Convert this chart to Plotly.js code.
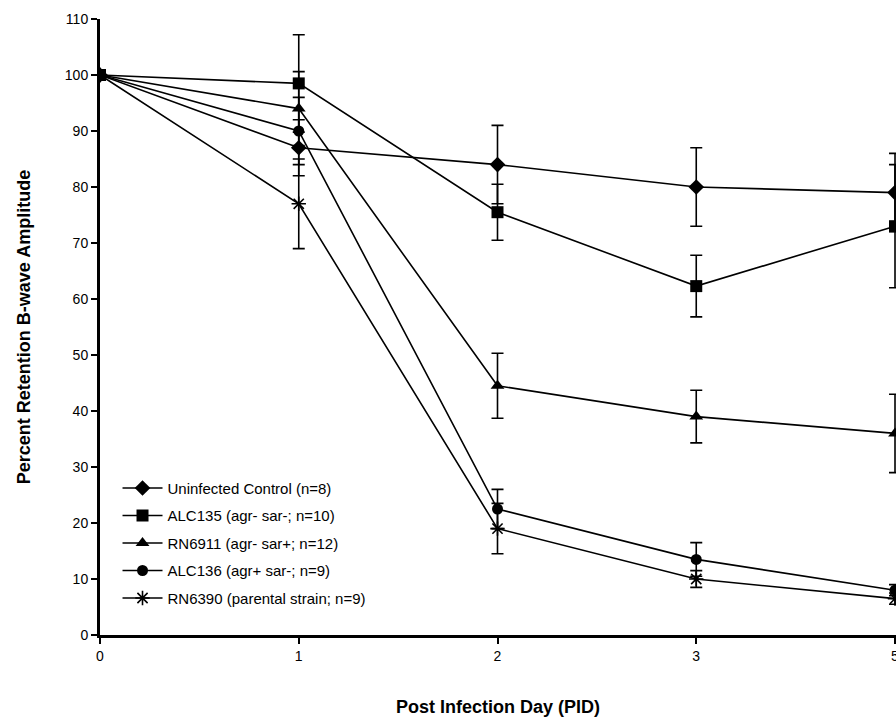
<!DOCTYPE html>
<html>
<head>
<meta charset="utf-8">
<script src="https://cdn.plot.ly/plotly-3.0.1.min.js"></script>
<style>html,body{margin:0;padding:0;background:#fff;}#chart{width:896px;height:717px;}</style>
</head>
<body>
<div id="chart"></div>
<script>
const days = ['0', '1', '2', '3', '5'];

const seriesNames = [
  'Uninfected Control (n=8)',
  'ALC135 (agr- sar-; n=10)',
  'RN6911 (agr- sar+; n=12)',
  'ALC136 (agr+ sar-; n=9)',
  'RN6390 (parental strain; n=9)'
];

const uninfected = [100, 87, 84, 80, 79];
const alc135 = [100, 98.5, 75.5, 62.3, 73];
const rn6911 = [100, 94, 44.5, 39, 36];
const alc136 = [100, 90, 22.5, 13.5, 8];
const rn6390 = [100, 77, 19, 10, 6.5];

const errUninfected = [0, 5, 7, 7, 7];
const errAlc135 = [0, 8.7, 5, 5.5, 11];
const errRn6911 = [0, 6.6, 5.8, 4.7, 7];
const errAlc136 = [0, 6, 3.5, 3, 1];
const errRn6390 = [0, 8, 4.5, 1.5, 1];

const symbols = ['diamond', 'square', 'triangle-up', 'circle', 'asterisk-open'];
const sizes = [12, 12, 12, 11, 12];
const values = [uninfected, alc135, rn6911, alc136, rn6390];
const errors = [errUninfected, errAlc135, errRn6911, errAlc136, errRn6390];

const traces = values.map((v, i) => ({
  x: days,
  y: v,
  name: seriesNames[i],
  legendgroup: 'g' + i,
  type: 'scatter',
  mode: 'lines+markers',
  line: {color: '#000', width: 1.6},
  marker: {symbol: symbols[i], size: sizes[i], color: '#000', line: {color: '#000', width: i === 4 ? 1.6 : 0}},
  error_y: {type: 'data', array: errors[i], visible: true, color: '#000', thickness: 1.6, width: 6},
  cliponaxis: true
}));

const layout = {
  width: 896,
  height: 717,
  margin: {l: 100, r: 0, t: 19, b: 82},
  paper_bgcolor: '#fff',
  plot_bgcolor: '#fff',
  font: {family: 'Liberation Sans, Arial, sans-serif', color: '#000'},
  showlegend: true,
  legend: {
    x: 0.022, y: 0.265, xanchor: 'left', yanchor: 'top',
    font: {size: 15, color: '#000'},
    traceorder: 'grouped', tracegroupgap: 5,
    bgcolor: 'rgba(0,0,0,0)', itemwidth: 40
  },
  xaxis: {
    type: 'category',
    range: [0, 4.005],
    showgrid: false, zeroline: false,
    showline: true, linecolor: '#000', linewidth: 3,
    ticks: 'outside', ticklen: 6, tickwidth: 2, tickcolor: '#000',
    tickfont: {size: 14},
    title: {text: 'Post Infection Day (PID)', font: {size: 18, family: 'Liberation Sans, Arial, sans-serif', weight: 'bold'}, standoff: 40}
  },
  yaxis: {
    range: [0, 110],
    tickvals: [0,10,20,30,40,50,60,70,80,90,100,110],
    showgrid: false, zeroline: false,
    showline: true, linecolor: '#000', linewidth: 3,
    ticks: 'outside', ticklen: 6, tickwidth: 2, tickcolor: '#000',
    tickfont: {size: 14},
    title: {text: 'Percent Retention B-wave Amplitude', font: {size: 18, family: 'Liberation Sans, Arial, sans-serif', weight: 'bold'}, standoff: 30}
  }
};

Plotly.newPlot('chart', traces, layout, {staticPlot: true, displayModeBar: false});
</script>
</body>
</html>
